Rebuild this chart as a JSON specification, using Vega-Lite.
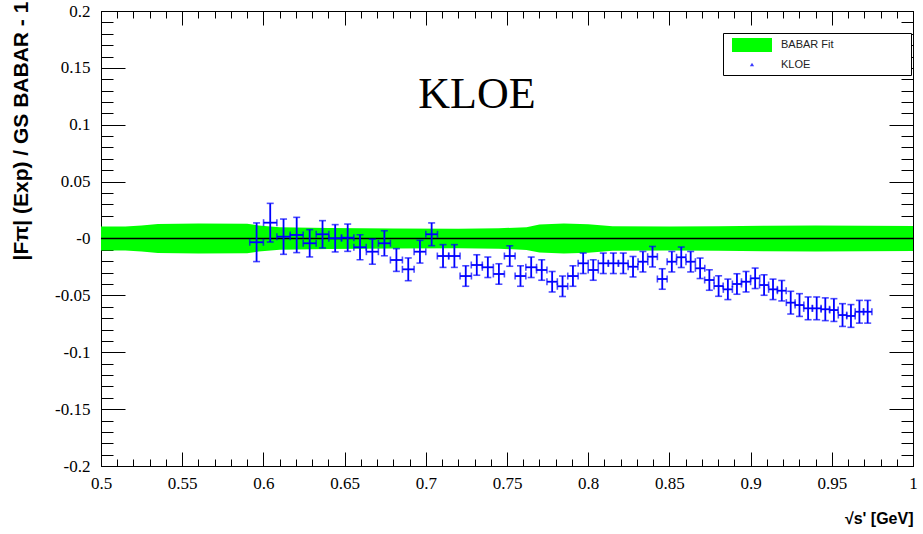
{
  "$schema": "https://vega.github.io/schema/vega-lite/v6.json",
  "width": 812,
  "height": 455,
  "autosize": {"type": "none"},
  "padding": {"left": 101, "top": 11, "right": 10, "bottom": 68},
  "background": "white",
  "datasets": {
    "band": [
      {"x": 0.5, "lo": -0.0105, "hi": 0.0105},
      {"x": 0.515, "lo": -0.0105, "hi": 0.0105},
      {"x": 0.525, "lo": -0.0115, "hi": 0.0115},
      {"x": 0.535, "lo": -0.0128, "hi": 0.0128},
      {"x": 0.56, "lo": -0.0132, "hi": 0.0132},
      {"x": 0.59, "lo": -0.013, "hi": 0.013},
      {"x": 0.597, "lo": -0.0115, "hi": 0.0115},
      {"x": 0.61, "lo": -0.0098, "hi": 0.0098},
      {"x": 0.64, "lo": -0.0092, "hi": 0.0092},
      {"x": 0.68, "lo": -0.0088, "hi": 0.0088},
      {"x": 0.72, "lo": -0.0086, "hi": 0.0086},
      {"x": 0.745, "lo": -0.009, "hi": 0.009},
      {"x": 0.762, "lo": -0.01, "hi": 0.01},
      {"x": 0.77, "lo": -0.0122, "hi": 0.0122},
      {"x": 0.785, "lo": -0.0132, "hi": 0.0132},
      {"x": 0.8, "lo": -0.0125, "hi": 0.0125},
      {"x": 0.815, "lo": -0.0108, "hi": 0.0108},
      {"x": 0.85, "lo": -0.0105, "hi": 0.0105},
      {"x": 0.88, "lo": -0.0108, "hi": 0.0108},
      {"x": 0.91, "lo": -0.0112, "hi": 0.0112},
      {"x": 0.94, "lo": -0.0115, "hi": 0.0115},
      {"x": 0.97, "lo": -0.0112, "hi": 0.0112},
      {"x": 1.0, "lo": -0.011, "hi": 0.011}
    ],
    "kloe": [
      {"x": 0.5958, "xe": 0.0042, "y": -0.0033, "ye": 0.017},
      {"x": 0.6042, "xe": 0.0041, "y": 0.0139, "ye": 0.017},
      {"x": 0.6124, "xe": 0.0041, "y": 0.0016, "ye": 0.0155},
      {"x": 0.6205, "xe": 0.004, "y": 0.0031, "ye": 0.0155},
      {"x": 0.6285, "xe": 0.004, "y": -0.0042, "ye": 0.012},
      {"x": 0.6364, "xe": 0.0039, "y": 0.0037, "ye": 0.012},
      {"x": 0.6442, "xe": 0.0039, "y": 0.0002, "ye": 0.012},
      {"x": 0.6519, "xe": 0.0038, "y": 0.0007, "ye": 0.012},
      {"x": 0.6595, "xe": 0.0038, "y": -0.0077, "ye": 0.011},
      {"x": 0.6671, "xe": 0.0037, "y": -0.0116, "ye": 0.011},
      {"x": 0.6745, "xe": 0.0037, "y": -0.0042, "ye": 0.011},
      {"x": 0.6819, "xe": 0.0037, "y": -0.0189, "ye": 0.01},
      {"x": 0.6892, "xe": 0.0036, "y": -0.0271, "ye": 0.01},
      {"x": 0.6964, "xe": 0.0036, "y": -0.0116, "ye": 0.01},
      {"x": 0.7036, "xe": 0.0036, "y": 0.0037, "ye": 0.01},
      {"x": 0.7106, "xe": 0.0035, "y": -0.0154, "ye": 0.01},
      {"x": 0.7176, "xe": 0.0035, "y": -0.0154, "ye": 0.01},
      {"x": 0.7246, "xe": 0.0035, "y": -0.033, "ye": 0.009},
      {"x": 0.7314, "xe": 0.0034, "y": -0.0233, "ye": 0.009},
      {"x": 0.7382, "xe": 0.0034, "y": -0.0253, "ye": 0.009},
      {"x": 0.745, "xe": 0.0034, "y": -0.0312, "ye": 0.009},
      {"x": 0.7517, "xe": 0.0033, "y": -0.0154, "ye": 0.009},
      {"x": 0.7583, "xe": 0.0033, "y": -0.033, "ye": 0.009},
      {"x": 0.7649, "xe": 0.0033, "y": -0.0253, "ye": 0.009},
      {"x": 0.7714, "xe": 0.0032, "y": -0.0277, "ye": 0.009},
      {"x": 0.7778, "xe": 0.0032, "y": -0.038, "ye": 0.009},
      {"x": 0.7842, "xe": 0.0032, "y": -0.042, "ye": 0.009},
      {"x": 0.7906, "xe": 0.0032, "y": -0.033, "ye": 0.009},
      {"x": 0.7969, "xe": 0.0031, "y": -0.0218, "ye": 0.009},
      {"x": 0.8031, "xe": 0.0031, "y": -0.0277, "ye": 0.009},
      {"x": 0.8093, "xe": 0.0031, "y": -0.0218, "ye": 0.009},
      {"x": 0.8155, "xe": 0.0031, "y": -0.0218, "ye": 0.009},
      {"x": 0.8216, "xe": 0.003, "y": -0.0218, "ye": 0.009},
      {"x": 0.8276, "xe": 0.003, "y": -0.0248, "ye": 0.009},
      {"x": 0.8337, "xe": 0.003, "y": -0.0204, "ye": 0.009},
      {"x": 0.8396, "xe": 0.003, "y": -0.016, "ye": 0.009},
      {"x": 0.8456, "xe": 0.003, "y": -0.0356, "ye": 0.009},
      {"x": 0.8515, "xe": 0.0029, "y": -0.0204, "ye": 0.009},
      {"x": 0.8573, "xe": 0.0029, "y": -0.0165, "ye": 0.009},
      {"x": 0.8631, "xe": 0.0029, "y": -0.0204, "ye": 0.009},
      {"x": 0.8689, "xe": 0.0029, "y": -0.0262, "ye": 0.009},
      {"x": 0.8746, "xe": 0.0029, "y": -0.0365, "ye": 0.009},
      {"x": 0.8803, "xe": 0.0028, "y": -0.0418, "ye": 0.009},
      {"x": 0.886, "xe": 0.0028, "y": -0.0447, "ye": 0.009},
      {"x": 0.8916, "xe": 0.0028, "y": -0.04, "ye": 0.009},
      {"x": 0.8972, "xe": 0.0028, "y": -0.038, "ye": 0.009},
      {"x": 0.9028, "xe": 0.0028, "y": -0.035, "ye": 0.009},
      {"x": 0.9083, "xe": 0.0028, "y": -0.0409, "ye": 0.009},
      {"x": 0.9138, "xe": 0.0027, "y": -0.0447, "ye": 0.009},
      {"x": 0.9192, "xe": 0.0027, "y": -0.0459, "ye": 0.009},
      {"x": 0.9247, "xe": 0.0027, "y": -0.0564, "ye": 0.01},
      {"x": 0.9301, "xe": 0.0027, "y": -0.0585, "ye": 0.01},
      {"x": 0.9354, "xe": 0.0027, "y": -0.0614, "ye": 0.01},
      {"x": 0.9407, "xe": 0.0027, "y": -0.0614, "ye": 0.01},
      {"x": 0.946, "xe": 0.0026, "y": -0.0622, "ye": 0.01},
      {"x": 0.9513, "xe": 0.0026, "y": -0.0629, "ye": 0.01},
      {"x": 0.9566, "xe": 0.0026, "y": -0.0673, "ye": 0.01},
      {"x": 0.9618, "xe": 0.0026, "y": -0.0681, "ye": 0.01},
      {"x": 0.967, "xe": 0.0026, "y": -0.0644, "ye": 0.01},
      {"x": 0.9721, "xe": 0.0026, "y": -0.0644, "ye": 0.01}
    ],
    "series": [
      {"s": "BABAR Fit"},
      {"s": "KLOE"}
    ]
  },
  "config": {
    "view": {"stroke": "black", "strokeWidth": 1},
    "axis": {
      "grid": false,
      "domain": false,
      "tickColor": "black",
      "tickWidth": 1
    }
  },
  "layer": [
    {
      "data": {"name": "band"},
      "mark": {"type": "area", "opacity": 1, "interpolate": "linear", "color": "#00ff00"},
      "encoding": {
        "x": {
          "field": "x", "type": "quantitative",
          "scale": {"domain": [0.5, 1.0], "nice": false, "zero": false},
          "axis": {
            "orient": "bottom",
            "values": [0.5, 0.55, 0.6, 0.65, 0.7, 0.75, 0.8, 0.85, 0.9, 0.95, 1.0],
            "ticks": false,
            "grid": false,
            "domain": false,
            "labelFont": "Liberation Serif",
            "labelFontSize": 17,
            "labelColor": "black",
            "labelFlush": false,
            "labelOverlap": false,
            "labelPadding": 9,
            "labelExpr": "format(datum.value, '.2~f')",
            "title": "√s' [GeV]",
            "titleFont": "Liberation Sans",
            "titleFontWeight": "bold",
            "titleFontSize": 16,
            "titleColor": "black",
            "titleX": 812,
            "titleY": 52,
            "titleAlign": "right",
            "titleBaseline": "middle"
          }
        },
        "y": {
          "field": "lo", "type": "quantitative",
          "scale": {"domain": [-0.2, 0.2], "nice": false, "zero": false},
          "axis": {
            "orient": "left",
            "values": [-0.2, -0.15, -0.1, -0.05, 0, 0.05, 0.1, 0.15, 0.2],
            "ticks": false,
            "grid": false,
            "domain": false,
            "labelFont": "Liberation Serif",
            "labelFontSize": 17,
            "labelColor": "black",
            "labelFlush": false,
            "labelOverlap": false,
            "labelPadding": 11,
            "labelExpr": "abs(datum.value) < 1e-9 ? '-0' : replace(format(datum.value, '.2~f'), '−', '-')",
            "title": "|Fπ| (Exp) / GS BABAR - 1",
            "titleFont": "Liberation Sans",
            "titleFontWeight": "bold",
            "titleFontSize": 21,
            "titleColor": "black",
            "titleAngle": 270,
            "titleX": -80,
            "titleY": 249,
            "titleAlign": "left",
            "titleBaseline": "middle"
          }
        },
        "y2": {"field": "hi"}
      }
    },
    {
      "data": {"values": [{}]},
      "mark": {"type": "rule", "color": "black", "strokeWidth": 1.3},
      "encoding": {"y": {"datum": 0, "type": "quantitative", "axis": null}}
    },
    {
      "data": {"name": "kloe"},
      "mark": {"type": "errorbar", "color": "#0000ff", "ticks": {"size": 7, "thickness": 1.6, "color": "#0000ff"}, "thickness": 1.8},
      "encoding": {
        "x": {"field": "x", "type": "quantitative", "axis": null},
        "y": {"field": "y", "type": "quantitative", "axis": null},
        "yError": {"field": "ye"}
      }
    },
    {
      "data": {"name": "kloe"},
      "mark": {"type": "errorbar", "color": "#0000ff", "ticks": {"size": 7, "thickness": 1.6, "color": "#0000ff"}, "thickness": 1.8},
      "encoding": {
        "y": {"field": "y", "type": "quantitative", "axis": null},
        "x": {"field": "x", "type": "quantitative", "axis": null},
        "xError": {"field": "xe"}
      }
    },
    {
      "data": {"values": [{}]},
      "mark": {"type": "text", "font": "Liberation Serif", "fontSize": 44, "color": "black", "baseline": "middle", "align": "center"},
      "encoding": {
        "x": {"datum": 0.7315, "type": "quantitative", "axis": null},
        "y": {"datum": 0.126, "type": "quantitative", "axis": null},
        "text": {"value": "KLOE"}
      }
    },
    {
      "data": {"name": "series"},
      "mark": {"type": "point", "filled": true, "clip": true, "opacity": 1, "strokeWidth": 0},
      "encoding": {
        "x": {"datum": 0.75, "type": "quantitative", "axis": null},
        "y": {"datum": -0.6, "type": "quantitative", "axis": null},
        "color": {
          "field": "s", "type": "nominal",
          "scale": {"domain": ["BABAR Fit", "KLOE"], "range": ["#00ff00", "#3a3aff"]},
          "legend": {
            "orient": "none",
            "legendX": 622,
            "legendY": 22,
            "title": " ",
            "titleOrient": "right",
            "titleFontSize": 11,
            "titlePadding": 72,
            "titleColor": "transparent",
            "strokeColor": "black",
            "fillColor": "white",
            "padding": 5,
            "symbolOffset": 17,
            "symbolStrokeWidth": 0,
            "symbolOpacity": 1,
            "rowPadding": 6,
            "labelOffset": 22,
            "labelFont": "Liberation Sans",
            "labelFontSize": 11,
            "labelColor": "#222222"
          }
        },
        "shape": {
          "field": "s", "type": "nominal",
          "scale": {"domain": ["BABAR Fit", "KLOE"], "range": ["M-2.857,-1H2.857V1H-2.857Z", "triangle-up"]}
        },
        "size": {
          "field": "s", "type": "nominal",
          "scale": {"domain": ["BABAR Fit", "KLOE"], "range": [196, 18]}
        }
      }
    },
    {
      "data": {"name": "band"},
      "mark": {"type": "point", "opacity": 0},
      "encoding": {
        "x": {"field": "x", "type": "quantitative", "axis": {"orient": "bottom", "values": [0.5, 0.55, 0.6, 0.65, 0.7, 0.75, 0.8, 0.85, 0.9, 0.95, 1.0], "labels": false, "domain": false, "tickSize": -14, "title": null}},
        "y": {"field": "lo", "type": "quantitative", "axis": {"orient": "left", "values": [-0.2, -0.15, -0.1, -0.05, 0, 0.05, 0.1, 0.15, 0.2], "labels": false, "domain": false, "tickSize": -24, "title": null}}
      }
    },
    {
      "data": {"name": "band"},
      "mark": {"type": "point", "opacity": 0},
      "encoding": {
        "x": {"field": "x", "type": "quantitative", "axis": {"orient": "bottom", "values": [0.5,0.51,0.52,0.53,0.54,0.55,0.56,0.57,0.58,0.59,0.6,0.61,0.62,0.63,0.64,0.65,0.66,0.67,0.68,0.69,0.7,0.71,0.72,0.73,0.74,0.75,0.76,0.77,0.78,0.79,0.8,0.81,0.82,0.83,0.84,0.85,0.86,0.87,0.88,0.89,0.9,0.91,0.92,0.93,0.94,0.95,0.96,0.97,0.98,0.99,1.0], "labels": false, "domain": false, "tickSize": -7, "title": null}},
        "y": {"field": "lo", "type": "quantitative", "axis": {"orient": "left", "values": [-0.2,-0.19,-0.18,-0.17,-0.16,-0.15,-0.14,-0.13,-0.12,-0.11,-0.1,-0.09,-0.08,-0.07,-0.06,-0.05,-0.04,-0.03,-0.02,-0.01,0,0.01,0.02,0.03,0.04,0.05,0.06,0.07,0.08,0.09,0.1,0.11,0.12,0.13,0.14,0.15,0.16,0.17,0.18,0.19,0.2], "labels": false, "domain": false, "tickSize": -12, "title": null}}
      }
    },
    {
      "data": {"name": "band"},
      "mark": {"type": "point", "opacity": 0},
      "encoding": {
        "x": {"field": "x", "type": "quantitative", "axis": {"orient": "top", "values": [0.5, 0.55, 0.6, 0.65, 0.7, 0.75, 0.8, 0.85, 0.9, 0.95, 1.0], "labels": false, "domain": false, "tickSize": -14, "title": null}},
        "y": {"field": "lo", "type": "quantitative", "axis": {"orient": "right", "values": [-0.2, -0.15, -0.1, -0.05, 0, 0.05, 0.1, 0.15, 0.2], "labels": false, "domain": false, "tickSize": -24, "title": null}}
      }
    },
    {
      "data": {"name": "band"},
      "mark": {"type": "point", "opacity": 0},
      "encoding": {
        "x": {"field": "x", "type": "quantitative", "axis": {"orient": "top", "values": [0.5,0.51,0.52,0.53,0.54,0.55,0.56,0.57,0.58,0.59,0.6,0.61,0.62,0.63,0.64,0.65,0.66,0.67,0.68,0.69,0.7,0.71,0.72,0.73,0.74,0.75,0.76,0.77,0.78,0.79,0.8,0.81,0.82,0.83,0.84,0.85,0.86,0.87,0.88,0.89,0.9,0.91,0.92,0.93,0.94,0.95,0.96,0.97,0.98,0.99,1.0], "labels": false, "domain": false, "tickSize": -7, "title": null}},
        "y": {"field": "lo", "type": "quantitative", "axis": {"orient": "right", "values": [-0.2,-0.19,-0.18,-0.17,-0.16,-0.15,-0.14,-0.13,-0.12,-0.11,-0.1,-0.09,-0.08,-0.07,-0.06,-0.05,-0.04,-0.03,-0.02,-0.01,0,0.01,0.02,0.03,0.04,0.05,0.06,0.07,0.08,0.09,0.1,0.11,0.12,0.13,0.14,0.15,0.16,0.17,0.18,0.19,0.2], "labels": false, "domain": false, "tickSize": -12, "title": null}}
      }
    }
  ],
  "resolve": {"axis": {"x": "independent", "y": "independent"}}
}
